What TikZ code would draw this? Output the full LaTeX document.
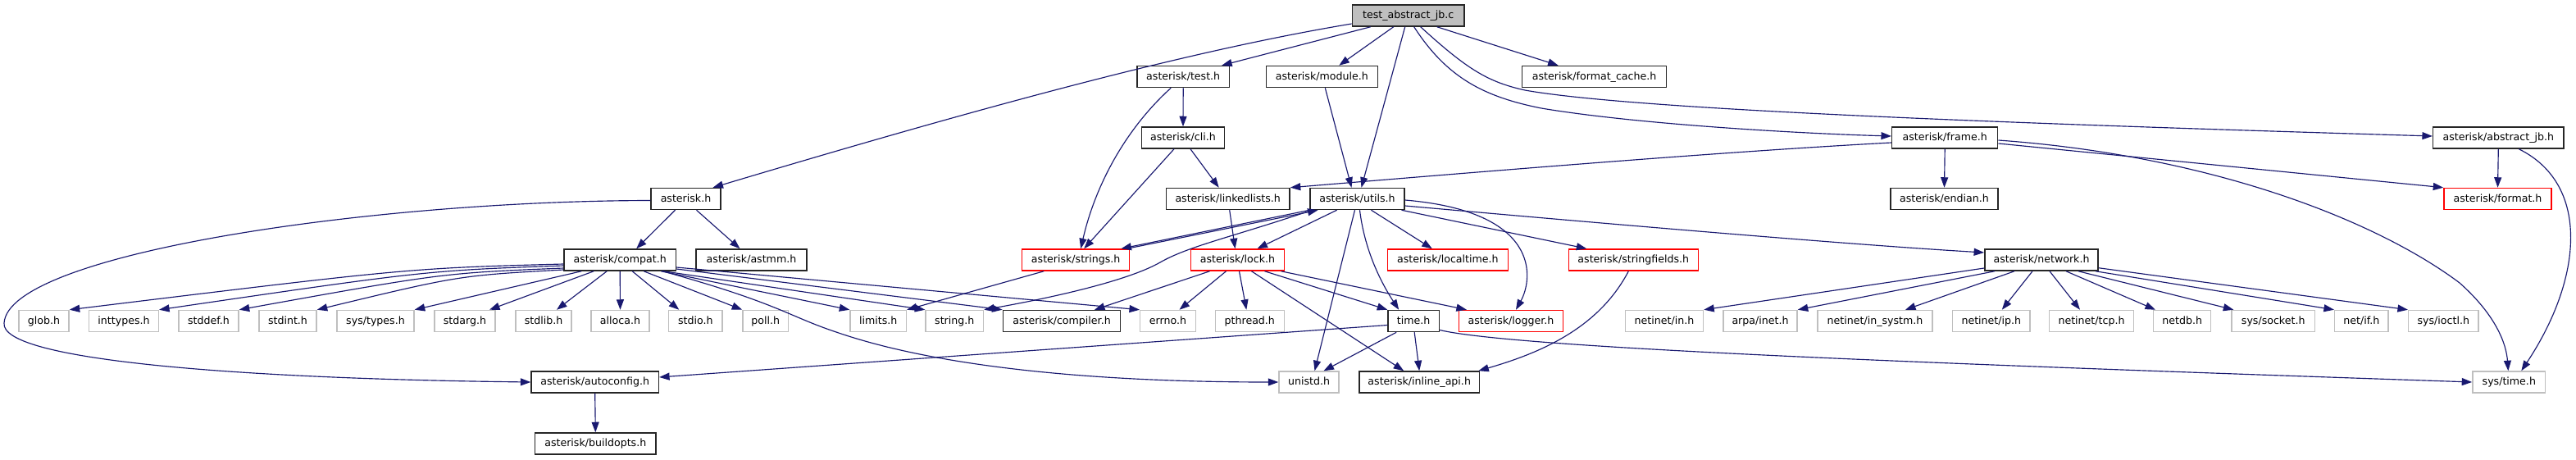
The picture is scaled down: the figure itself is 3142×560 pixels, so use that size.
\documentclass[tikz,border=0pt]{standalone}
\usepackage{fontspec}
\setmainfont{DejaVu Sans}
\usetikzlibrary{arrows.meta}
\definecolor{edgec}{HTML}{191970}
\definecolor{grayb}{HTML}{BFBFBF}
\definecolor{redb}{HTML}{FF0000}
\definecolor{blkb}{HTML}{262626}
\begin{document}
\begin{tikzpicture}[x=1pt,y=-1pt,
 hbox/.style={draw=blkb, line width=1.5pt, inner sep=0pt, minimum height=26pt, text height=9.5pt, text depth=2.5pt, font=\fontsize{12.6}{14}\selectfont, fill=white},
 blk/.style={hbox},
 redbox/.style={hbox, draw=redb},
 sysbox/.style={hbox, draw=grayb},
 mainbox/.style={hbox, fill=grayb},
 dep/.style={draw=edgec, line width=1.15pt, -{Triangle[length=12.5pt,width=9pt]}}
]
\path[fill=white, use as bounding box] (0,0) rectangle (3142,560);
% row 0
\node[mainbox, minimum width=136.7pt] (main) at (1717.7,19) {test\_abstract\_jb.c};
% row 1
\node[blk, minimum width=112.5pt] (test) at (1443.2,93.5) {asterisk/test.h};
\node[blk, minimum width=136pt] (module) at (1612.3,93.5) {asterisk/module.h};
\node[blk, minimum width=176pt] (fcache) at (1944.6,93.5) {asterisk/format\_cache.h};
% row 2
\node[blk, minimum width=101.4pt] (cli) at (1443,168) {asterisk/cli.h};
\node[blk, minimum width=129pt] (frame) at (2372.2,168) {asterisk/frame.h};
\node[blk, minimum width=159.3pt] (abjb) at (3047.3,168) {asterisk/abstract\_jb.h};
% row 3
\node[blk, minimum width=85pt] (asterisk) at (836.5,242.5) {asterisk.h};
\node[blk, minimum width=150.7pt] (linked) at (1497.7,242.5) {asterisk/linkedlists.h};
\node[blk, minimum width=115pt] (utils) at (1655.5,242.5) {asterisk/utils.h};
\node[blk, minimum width=131pt] (endian) at (2371.5,242.5) {asterisk/endian.h};
\node[redbox, minimum width=131pt] (format) at (3046.5,242.5) {asterisk/format.h};
% row 4
\node[blk, minimum width=136.4pt] (compat) at (756.2,317) {asterisk/compat.h};
\node[blk, minimum width=135pt] (astmm) at (916.5,317) {asterisk/astmm.h};
\node[redbox, minimum width=131pt] (strings) at (1312.2,317) {asterisk/strings.h};
\node[redbox, minimum width=113.6pt] (lock) at (1509.5,317) {asterisk/lock.h};
\node[redbox, minimum width=147pt] (localtime) at (1765.8,317) {asterisk/localtime.h};
\node[redbox, minimum width=158pt] (stringfields) at (1992.3,317) {asterisk/stringfields.h};
\node[blk, minimum width=138.3pt] (network) at (2490,317) {asterisk/network.h};
% row 5
\node[sysbox, minimum width=61pt] (glob) at (53.5,391.5) {glob.h};
\node[sysbox, minimum width=84.7pt] (inttypes) at (151,391.5) {inttypes.h};
\node[sysbox, minimum width=73pt] (stddef) at (254.5,391.5) {stddef.h};
\node[sysbox, minimum width=70pt] (stdint) at (351,391.5) {stdint.h};
\node[sysbox, minimum width=94pt] (systypes) at (458,391.5) {sys/types.h};
\node[sysbox, minimum width=74pt] (stdarg) at (567,391.5) {stdarg.h};
\node[sysbox, minimum width=68pt] (stdlib) at (663,391.5) {stdlib.h};
\node[sysbox, minimum width=71pt] (alloca) at (756.5,391.5) {alloca.h};
\node[sysbox, minimum width=65.4pt] (stdio) at (848.3,391.5) {stdio.h};
\node[sysbox, minimum width=55.6pt] (poll) at (933.8,391.5) {poll.h};
\node[sysbox, minimum width=68.4pt] (limits) at (1071.2,391.5) {limits.h};
\node[sysbox, minimum width=70.5pt] (string) at (1164.3,391.5) {string.h};
\node[blk, minimum width=143.4pt] (compiler) at (1295,391.5) {asterisk/compiler.h};
\node[sysbox, minimum width=67.6pt] (errno) at (1424.5,391.5) {errno.h};
\node[sysbox, minimum width=84pt] (pthread) at (1524.3,391.5) {pthread.h};
\node[blk, minimum width=62.4pt] (time) at (1724.2,391.5) {time.h};
\node[redbox, minimum width=126.7pt] (logger) at (1843,391.5) {asterisk/logger.h};
\node[sysbox, minimum width=95pt] (netin) at (2030,391.5) {netinet/in.h};
\node[sysbox, minimum width=90pt] (arpa) at (2147,391.5) {arpa/inet.h};
\node[sysbox, minimum width=140pt] (insystm) at (2287,391.5) {netinet/in\_systm.h};
\node[sysbox, minimum width=94.4pt] (ip) at (2428.8,391.5) {netinet/ip.h};
\node[sysbox, minimum width=103.4pt] (tcp) at (2551,391.5) {netinet/tcp.h};
\node[sysbox, minimum width=70pt] (netdb) at (2661.7,391.5) {netdb.h};
\node[sysbox, minimum width=101.3pt] (socket) at (2772.7,391.5) {sys/socket.h};
\node[sysbox, minimum width=65.3pt] (netif) at (2880.3,391.5) {net/if.h};
\node[sysbox, minimum width=85.3pt] (ioctl) at (2980.3,391.5) {sys/ioctl.h};
% row 6
\node[blk, minimum width=155.3pt] (autoconfig) at (725.7,466) {asterisk/autoconfig.h};
\node[sysbox, minimum width=73pt] (unistd) at (1596.5,466) {unistd.h};
\node[blk, minimum width=146.7pt] (inline) at (1731.2,466) {asterisk/inline\_api.h};
\node[sysbox, minimum width=88.7pt] (systime) at (3060.3,466) {sys/time.h};
% row 7
\node[blk, minimum width=147.4pt] (buildopts) at (726.3,541) {asterisk/buildopts.h};

% edges from main
\draw[dep] ([yshift=-10]main.west) .. controls (1450,62) and (1200,130) .. ([xshift=33]asterisk.north);
\draw[dep] ([xshift=-46]main.south) -- ([xshift=47]test.north);
\draw[dep] ([xshift=-18]main.south) -- ([xshift=21]module.north);
\draw[dep] ([xshift=-4]main.south) -- ([xshift=5]utils.north);
\draw[dep] ([xshift=35]main.south) -- ([xshift=-44]fcache.north);
\draw[dep] ([xshift=7]main.south) .. controls (1765,95) and (1810,118) .. (1880,132) .. controls (2000,152) and (2200,163) .. ([yshift=2]frame.west);
\draw[dep] ([xshift=15]main.south) .. controls (1790,85) and (1815,100) .. (1860,110) .. controls (2000,135) and (2500,152) .. ([yshift=2]abjb.west);
% test, cli, module
\draw[dep] (test.south) -- (cli.north);
\draw[dep] ([xshift=-15]test.south) .. controls (1370,160) and (1335,230) .. ([xshift=6]strings.north);
\draw[dep] ([xshift=-11]cli.south) -- ([xshift=10]strings.north);
\draw[dep] ([xshift=9]cli.south) -- ([xshift=-11]linked.north);
\draw[dep] ([xshift=4]module.south) -- ([xshift=-7]utils.north);
% frame
\draw[dep] ([yshift=-6]frame.west) .. controls (2100,185) and (1800,210) .. (linked.north east);
\draw[dep] (frame.south) -- (endian.north);
\draw[dep] ([yshift=-7]frame.east) -- (format.north west);
\draw[dep] ([yshift=-3]frame.east) .. controls (2700,190) and (2900,270) .. (3000,345) .. controls (3045,385) and (3057,420) .. ([xshift=-1]systime.north);
% abstract_jb
\draw[dep] (abjb.south) -- (format.north);
\draw[dep] ([xshift=25]abjb.south) .. controls (3160,225) and (3150,340) .. ([xshift=15]systime.north);
% asterisk.h
\draw[dep] ([xshift=-13]asterisk.south) -- ([xshift=20]compat.north);
\draw[dep] ([xshift=13]asterisk.south) -- ([xshift=-14]astmm.north);
\draw[dep] ([yshift=-2]asterisk.west) .. controls (450,245) and (10,310) .. (5,394) .. controls (0,440) and (300,462) .. (autoconfig.west);
% compat fan
\draw[dep] ([yshift=-5]compat.west) .. controls (500,327) .. (glob.north east);
\draw[dep] ([yshift=-7]compat.west) .. controls (520,330) .. (inttypes.north east);
\draw[dep] ([yshift=-10]compat.west) .. controls (540,333) .. (stddef.north east);
\draw[dep] ([yshift=-12]compat.west) .. controls (560,336) .. (stdint.north east);
\draw[dep] ([xshift=-47]compat.south) -- (systypes.north east);
\draw[dep] ([xshift=-32]compat.south) -- ([xshift=30]stdarg.north);
\draw[dep] ([xshift=-16]compat.south) -- ([xshift=16]stdlib.north);
\draw[dep] (compat.south) -- (alloca.north);
\draw[dep] ([xshift=15]compat.south) -- ([xshift=-20]stdio.north);
\draw[dep] ([xshift=29]compat.south) -- (poll.north west);
\draw[dep] ([xshift=50]compat.south) -- (limits.north west);
\draw[dep] ([xshift=53]compat.south) -- (string.north west);
\draw[dep] ([yshift=-11]compat.east) -- (compiler.north west);
\draw[dep] ([yshift=-9]compat.east) -- (errno.north west);
\draw[dep] ([xshift=52]compat.south) .. controls (950,370) and (960,385) .. (1020,405) .. controls (1150,450) and (1350,466) .. (unistd.west);
\draw[dep] (autoconfig.south) -- (buildopts.north);
% strings / linkedlists
\draw[dep] ([xshift=-39]strings.south) -- (limits.north east);
\draw[dep] ([xshift=-4]strings.north east) -- ([xshift=-48]utils.south);
\draw[dep] (utils.south west) -- ([xshift=-11]strings.north east);
\draw[dep] ([xshift=2]linked.south) -- ([xshift=-3]lock.north);
% utils
\draw[dep] ([xshift=3]utils.south west) .. controls (1500,290) and (1450,300) .. (1415,320) .. controls (1380,340) and (1300,360) .. (string.north east);
\draw[dep] ([xshift=-25]utils.south) -- ([xshift=24]lock.north);
\draw[dep] ([xshift=17]utils.south) -- ([xshift=-19]localtime.north);
\draw[dep] ([xshift=54]utils.south) -- ([xshift=-57]stringfields.north);
\draw[dep] ([yshift=-1.5]utils.east) .. controls (1880,258) and (1870,340) .. ([xshift=6]logger.north);
\draw[dep] ([yshift=-8.5]utils.east) .. controls (1950,272) and (2250,298) .. ([yshift=9]network.west);
\draw[dep] ([xshift=3]utils.south) .. controls (1665,310) and (1688,350) .. ([xshift=-18]time.north);
\draw[dep] ([xshift=-3]utils.south) -- ([xshift=7]unistd.north);
% lock
\draw[dep] ([xshift=-34]lock.south) -- ([xshift=40]compiler.north);
\draw[dep] ([xshift=-14]lock.south) -- ([xshift=14]errno.north);
\draw[dep] ([xshift=2]lock.south) -- ([xshift=-4]pthread.north);
\draw[dep] ([xshift=17]lock.south) -- ([xshift=-19]inline.north);
\draw[dep] ([xshift=33]lock.south) -- (time.north west);
\draw[dep] ([xshift=53]lock.south) -- ([xshift=10]logger.north west);
% time
\draw[dep] ([yshift=-5]time.west) -- ([yshift=6]autoconfig.east);
\draw[dep] ([xshift=-21]time.south) -- ([xshift=18]unistd.north);
\draw[dep] ([xshift=1]time.south) -- (inline.north);
\draw[dep] ([yshift=-11]time.east) .. controls (1850,425) and (2400,445) .. (systime.west);
% stringfields
\draw[dep] ([xshift=-6]stringfields.south) .. controls (1950,400) and (1880,430) .. ([xshift=-2]inline.north east);
% network fan
\draw[dep] ([yshift=-10]network.west) -- (netin.north east);
\draw[dep] ([xshift=-57]network.south) -- (arpa.north east);
\draw[dep] ([xshift=-33]network.south) -- ([xshift=37]insystm.north);
\draw[dep] ([xshift=-11]network.south) -- ([xshift=13]ip.north);
\draw[dep] ([xshift=10]network.south) -- ([xshift=-14]tcp.north);
\draw[dep] ([xshift=30]network.south) -- ([xshift=3]netdb.north west);
\draw[dep] ([xshift=45]network.south) -- ([xshift=3]socket.north west);
\draw[dep] ([xshift=-4]network.south east) -- (netif.north west);
\draw[dep] ([yshift=4]network.south east) -- (ioctl.north west);
\end{tikzpicture}
\end{document}
